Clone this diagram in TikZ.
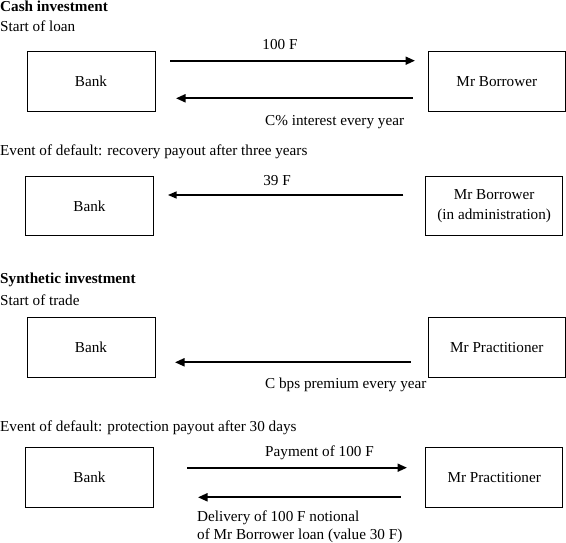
\documentclass[tikz,border=0pt]{standalone}
\usepackage{fontspec}
\setmainfont{Liberation Serif}
\usetikzlibrary{arrows.meta}
\begin{document}
\begin{tikzpicture}[x=1pt,y=-1pt,
  every node/.style={font=\fontsize{15.2}{19.3}\selectfont, inner sep=0pt},
  party/.style={draw, line width=0.8pt, align=center, minimum height=59.5pt},
  title/.style={anchor=base west},
  flow/.style={line width=1.9pt, -{Triangle[length=9.5pt,width=8pt]}},
  thinflow/.style={line width=1.1pt, -{Triangle[length=8.5pt,width=7pt]}},
  lbl/.style={anchor=base}
]
\useasboundingbox (0,0) rectangle (566,543);
% ---------- Cash investment ----------
\node[title, font=\fontsize{15.2}{19.3}\selectfont\bfseries] (t1) at (0,11.2) {Cash investment};
\node[title] (t2) at (0,31.5) {Start of loan};
\node[party, minimum width=128pt] (bank1) at (91,81.4) {Bank};
\node[party, minimum width=136.3pt] (bor1) at (496.8,81.4) {Mr Borrower};
\coordinate (a1s) at (170,60.7);
\coordinate (a1e) at (415,60.7);
\coordinate (a2s) at (412.7,98.3);
\coordinate (a2e) at (176,98.3);
\draw[flow] (a1s) -- (a1e);
\draw[flow] (a2s) -- (a2e);
\node[lbl] (l1) at (280,50) {100 F};
\node[anchor=base west] (l2) at (265,126) {C\% interest every year};
% ---------- Default ----------
\node[title] (t3) at (0,156) {Event of default: recovery payout after three years};
\node[party, minimum width=128.4pt] (bank2) at (89.5,206) {Bank};
\node[party, minimum width=137pt] (bor2) at (494.2,206) {Mr Borrower\\(in administration)};
\coordinate (a3s) at (403.3,195);
\coordinate (a3e) at (168,195);
\draw[thinflow] (a3s) -- (a3e);
\node[lbl] (l3) at (277,185.7) {39 F};
% ---------- Synthetic investment ----------
\node[title, font=\fontsize{15.2}{19.3}\selectfont\bfseries] (t4) at (0,283.3) {Synthetic investment};
\node[title] (t5) at (0,305) {Start of trade};
\node[party, minimum width=128pt] (bank3) at (91,347.3) {Bank};
\node[party, minimum width=136.3pt] (pra3) at (496.8,347.3) {Mr Practitioner};
\coordinate (a4s) at (410.5,362.3);
\coordinate (a4e) at (175,362.3);
\draw[flow] (a4s) -- (a4e);
\node[anchor=base west] (l4) at (265,388) {C bps premium every year};
% ---------- Default (synthetic) ----------
\node[title] (t6) at (0,431) {Event of default: protection payout after 30 days};
\node[party, minimum width=128.4pt] (bank4) at (89.5,477.3) {Bank};
\node[party, minimum width=137pt] (pra4) at (494.2,477.3) {Mr Practitioner};
\coordinate (a5s) at (187,467.7);
\coordinate (a5e) at (407,467.7);
\coordinate (a6s) at (400.7,497.3);
\coordinate (a6e) at (198,497.3);
\draw[flow] (a5s) -- (a5e);
\draw[flow] (a6s) -- (a6e);
\node[anchor=base west] (l5) at (265,456) {Payment of 100 F};
\node[anchor=base west] (l6) at (197,521) {Delivery of 100 F notional};
\node[anchor=base west] (l7) at (197,539) {of Mr Borrower loan (value 30 F)};
\end{tikzpicture}
\end{document}
